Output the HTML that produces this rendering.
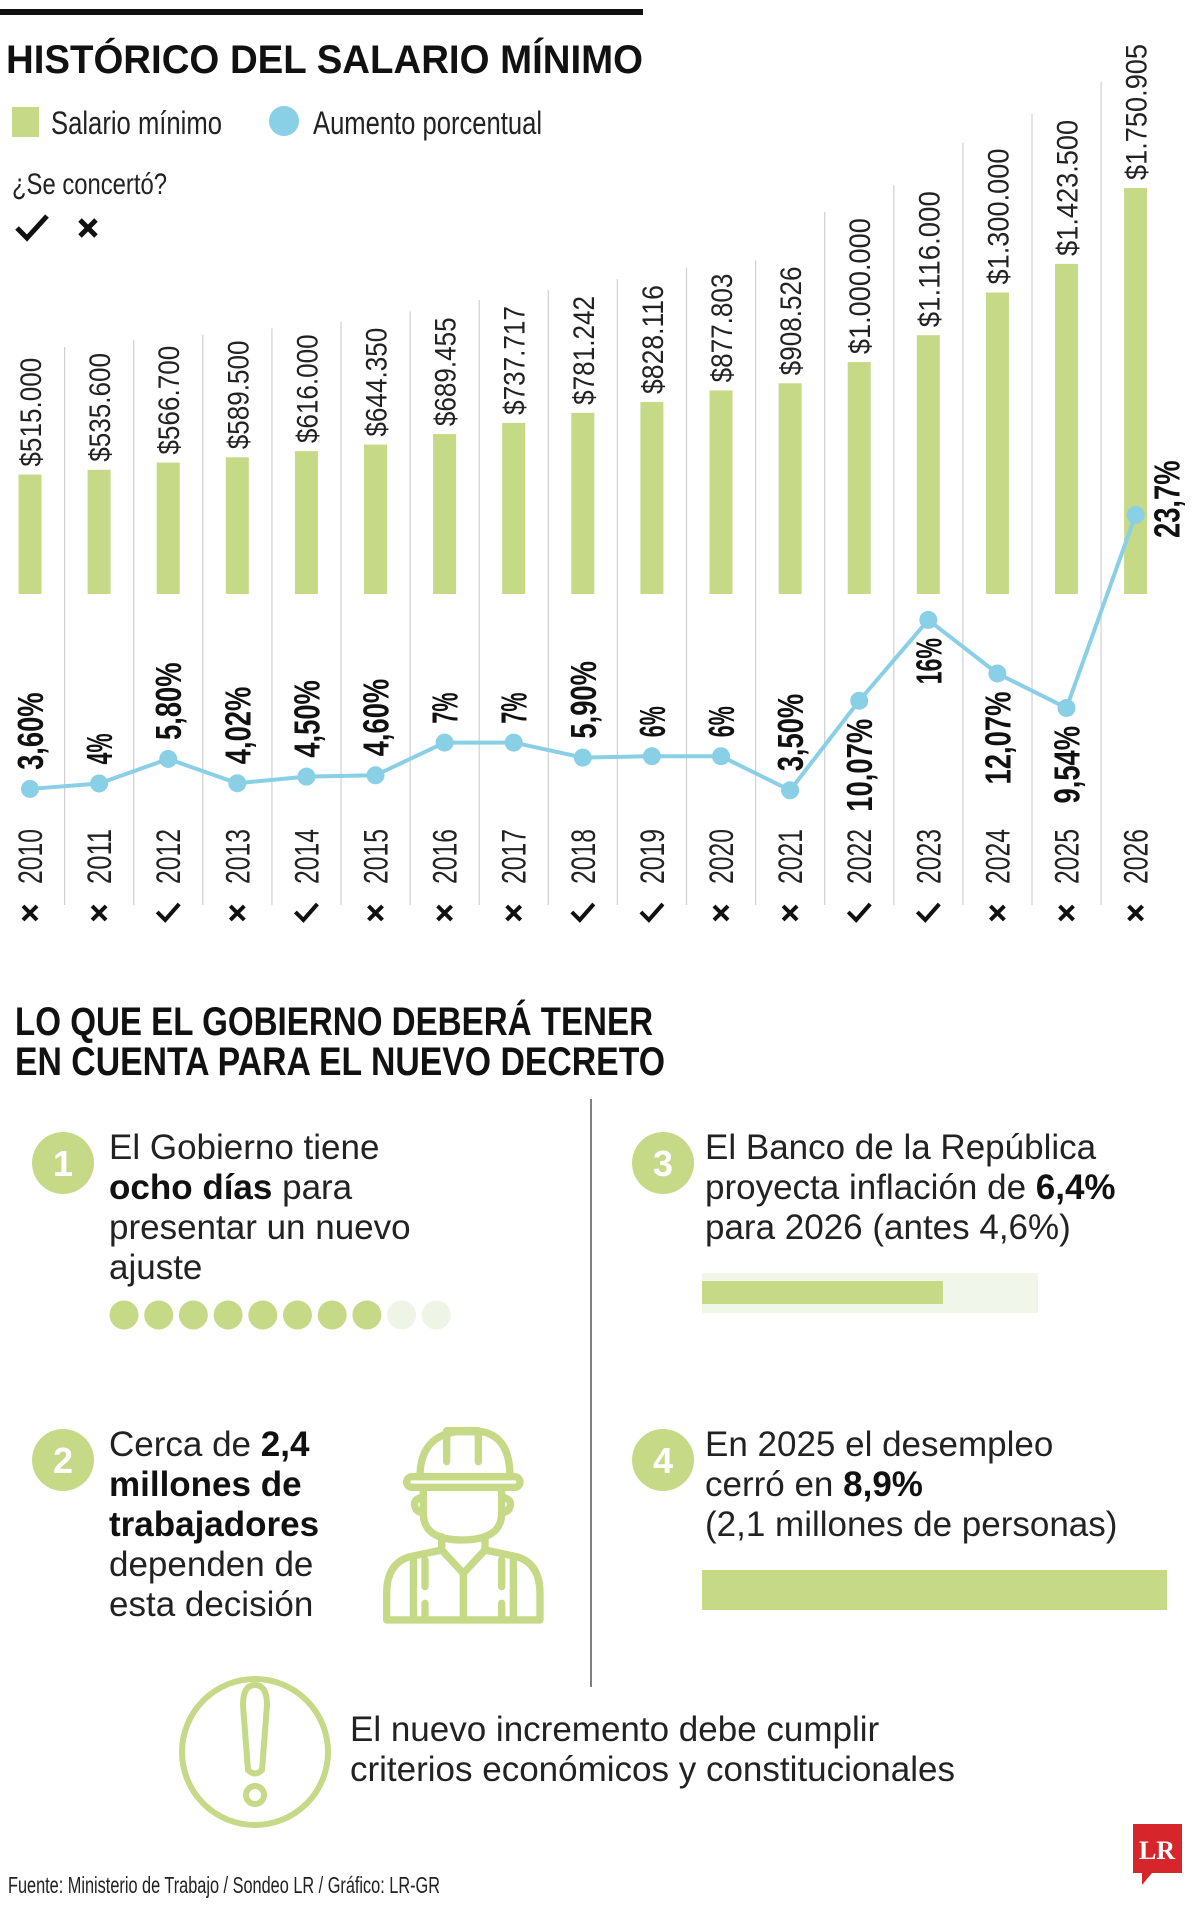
<!DOCTYPE html>
<html><head><meta charset="utf-8">
<style>
html,body{margin:0;padding:0;background:#fff;}
svg{display:block;}
text{font-family:"Liberation Sans Narrow","Liberation Sans",sans-serif;}
</style></head>
<body>
<svg id="chart" width="1200" height="1909" viewBox="0 0 1200 1909" xmlns="http://www.w3.org/2000/svg">
  <rect x="0" y="9" width="643" height="6" fill="#111"/>
  <text x="6" y="73" font-size="40" font-weight="bold" fill="#111" textLength="637" lengthAdjust="spacingAndGlyphs">HISTÓRICO DEL SALARIO MÍNIMO</text>
  <g>
    <rect x="12" y="107" width="27" height="30" fill="#c5d987"/>
    <text x="51" y="134" font-size="32" fill="#222" textLength="171" lengthAdjust="spacingAndGlyphs">Salario mínimo</text>
    <circle cx="284" cy="121" r="15" fill="#89cfe6"/>
    <text x="313" y="134" font-size="32" fill="#222" textLength="229" lengthAdjust="spacingAndGlyphs">Aumento porcentual</text>
    <text x="12" y="194" font-size="30" fill="#222" textLength="155" lengthAdjust="spacingAndGlyphs">¿Se concertó?</text>
    <path d="M17 228 L27 238 L47 216" stroke="#111" stroke-width="5" fill="none"/>
    <path d="M80 220 L96 236 M96 220 L80 236" stroke="#111" stroke-width="5" fill="none"/>
  </g>
  <g id="plot"></g>

  <g transform="translate(0,5)">
  <text x="15" y="1030" font-size="40" font-weight="bold" fill="#111" textLength="638" lengthAdjust="spacingAndGlyphs">LO QUE EL GOBIERNO DEBERÁ TENER</text>
  <text x="15" y="1070" font-size="40" font-weight="bold" fill="#111" textLength="650" lengthAdjust="spacingAndGlyphs">EN CUENTA PARA EL NUEVO DECRETO</text>
  <line x1="591" y1="1094" x2="591" y2="1682" stroke="#555" stroke-width="1.5"/>

  <g>
    <circle cx="63" cy="1158" r="31" fill="#c5d987"/>
    <text x="63" y="1171" font-size="36" font-weight="bold" fill="#fff" text-anchor="middle">1</text>
    <text x="109" y="1154" font-size="35" fill="#222">El Gobierno tiene</text>
    <text x="109" y="1194" font-size="35" fill="#222"><tspan font-weight="bold" fill="#111">ocho días</tspan> para</text>
    <text x="109" y="1234" font-size="35" fill="#222">presentar un nuevo</text>
    <text x="109" y="1274" font-size="35" fill="#222">ajuste</text>
    <g id="dots"></g>
  </g>

  <g>
    <circle cx="663" cy="1158" r="31" fill="#c5d987"/>
    <text x="663" y="1171" font-size="36" font-weight="bold" fill="#fff" text-anchor="middle">3</text>
    <text x="705" y="1154" font-size="35" fill="#222">El Banco de la República</text>
    <text x="705" y="1194" font-size="35" fill="#222">proyecta inflación de <tspan font-weight="bold" fill="#111">6,4%</tspan></text>
    <text x="705" y="1234" font-size="35" fill="#222">para 2026 (antes 4,6%)</text>
    <rect x="702" y="1268" width="336" height="40" fill="#f1f6ea"/>
    <rect x="702" y="1276" width="241" height="23" fill="#c5d987"/>
  </g>

  <g>
    <circle cx="63" cy="1455" r="31" fill="#c5d987"/>
    <text x="63" y="1468" font-size="36" font-weight="bold" fill="#fff" text-anchor="middle">2</text>
    <text x="109" y="1451" font-size="35" fill="#222">Cerca de <tspan font-weight="bold" fill="#111">2,4</tspan></text>
    <text x="109" y="1491" font-size="35" font-weight="bold" fill="#111">millones de</text>
    <text x="109" y="1531" font-size="35" font-weight="bold" fill="#111">trabajadores</text>
    <text x="109" y="1571" font-size="35" fill="#222">dependen de</text>
    <text x="109" y="1611" font-size="35" fill="#222">esta decisión</text>
    <g transform="translate(370,1395) scale(0.3333)" fill="none" stroke="#c5d987" stroke-width="22" stroke-linejoin="round" stroke-linecap="round">
      <path d="M150 230 Q150 110 260 95 L335 95 Q420 110 420 230"/>
      <path d="M230 185 L230 92 L325 92 L325 185"/>
      <rect x="110" y="230" width="340" height="32" rx="16"/>
      <path d="M160 262 L160 340 Q160 420 275 420 Q395 420 395 340 L395 262"/>
      <path d="M160 290 Q120 300 140 330 Q150 340 160 335"/>
      <path d="M395 290 Q435 300 415 330 Q405 340 395 335"/>
      <path d="M215 410 L215 450 L280 520 L345 450 L345 410"/>
      <path d="M215 450 L120 470 Q50 490 50 580 L50 660 L510 660 L510 580 Q510 490 440 470 L345 450"/>
      <path d="M280 520 L280 655"/>
      <path d="M130 478 L130 655 M165 480 L165 560 M165 610 L165 655 M395 480 L395 560 M395 610 L395 655 M430 478 L430 655"/>
    </g>
  </g>

  <g>
    <circle cx="663" cy="1455" r="31" fill="#c5d987"/>
    <text x="663" y="1468" font-size="36" font-weight="bold" fill="#fff" text-anchor="middle">4</text>
    <text x="705" y="1451" font-size="35" fill="#222">En 2025 el desempleo</text>
    <text x="705" y="1491" font-size="35" fill="#222">cerró en <tspan font-weight="bold" fill="#111">8,9%</tspan></text>
    <text x="705" y="1531" font-size="35" fill="#222">(2,1 millones de personas)</text>
    <rect x="702" y="1565" width="465" height="40" fill="#c5d987"/>
  </g>

  <g>
    <circle cx="255" cy="1747" r="73" fill="none" stroke="#c5d987" stroke-width="6"/>
    <path d="M243 1700 Q243 1680 255 1680 Q267 1680 267 1700 L262 1765 Q255 1772 248 1765 Z" fill="none" stroke="#c5d987" stroke-width="6" stroke-linejoin="round"/>
    <circle cx="255" cy="1790" r="9" fill="none" stroke="#c5d987" stroke-width="6"/>
    <text x="350" y="1736" font-size="35" fill="#222">El nuevo incremento debe cumplir</text>
    <text x="350" y="1776" font-size="35" fill="#222">criterios económicos y constitucionales</text>
  </g>
  </g>

  <text x="8" y="1893" font-size="23" fill="#222" textLength="432" lengthAdjust="spacingAndGlyphs">Fuente: Ministerio de Trabajo / Sondeo LR / Gráfico: LR-GR</text>
  <g>
    <path d="M1133 1824 L1182 1824 L1182 1873 L1152 1873 L1142 1885 L1142 1873 L1133 1873 Z" fill="#d7262b"/>
    <text x="1157" y="1859" font-size="26" font-weight="bold" fill="#fff" text-anchor="middle" style="font-family:'Liberation Serif',serif">LR</text>
  </g>
</svg>
<script>
const years = ["2010","2011","2012","2013","2014","2015","2016","2017","2018","2019","2020","2021","2022","2023","2024","2025","2026"];
const salaries = [515000,535600,566700,589500,616000,644350,689455,737717,781242,828116,877803,908526,1000000,1116000,1300000,1423500,1750905];
const salaryLabels = ["$515.000","$535.600","$566.700","$589.500","$616.000","$644.350","$689.455","$737.717","$781.242","$828.116","$877.803","$908.526","$1.000.000","$1.116.000","$1.300.000","$1.423.500","$1.750.905"];
const increases = [3.6,4,5.8,4.02,4.5,4.6,7,7,5.9,6,6,3.5,10.07,16,12.07,9.54,23.7];
const increaseLabels = ["3,60%","4%","5,80%","4,02%","4,50%","4,60%","7%","7%","5,90%","6%","6%","3,50%","10,07%","16%","12,07%","9,54%","23,7%"];
const agreed = [false,false,true,false,true,false,false,false,true,true,false,false,true,true,false,false,false];
const daysTotal = 10;
const daysUsed = 8;

const NS = "http://www.w3.org/2000/svg";
const plot = document.getElementById("plot");
function xPos(i){ return 30 + i * 69.1; }
function yBar(v){ return 594 - v * 0.0002319; }
function yPct(p){ return 838 - p * 13.63; }
function mk(tag, attrs, parent){
  const e = document.createElementNS(NS, tag);
  for (const k in attrs) e.setAttribute(k, attrs[k]);
  (parent || plot).appendChild(e);
  return e;
}
for (let i = 1; i < years.length; i++) {
  const lblLen = salaryLabels[i].length * 13.6;
  const top = Math.max(82, yBar(salaries[i]) - 8 - lblLen - 6);
  const g = mk("line", {x1: xPos(i) - 34.5, x2: xPos(i) - 34.5, y1: top, y2: 905, stroke: "#cfcfcf", "stroke-width": 1.2});
  
  
}
years.forEach((y, i) => {
  const cx = xPos(i), top = yBar(salaries[i]);
  const b = mk("rect", {x: cx - 11.5, y: top, width: 23, height: 594 - top, fill: "#c5d987"});
  
  
  const len = salaryLabels[i].length * 13.6;
  const t = mk("text", {x: 0, y: 0, "font-size": 30, fill: "#222", textLength: len, lengthAdjust: "spacingAndGlyphs",
    transform: `translate(${cx + 11},${top - 8}) rotate(-90)`});
  t.textContent = salaryLabels[i];
  
  
  const yl = mk("text", {x: 0, y: 0, "font-size": 34, fill: "#222", textLength: 55, lengthAdjust: "spacingAndGlyphs",
    transform: `translate(${cx + 12},884) rotate(-90)`});
  yl.textContent = y;
  
  
  let m;
  if (agreed[i]) {
    m = mk("path", {d: `M${cx-11} ${912} L${cx-3} ${920} L${cx+11} ${904}`, stroke: "#111", "stroke-width": 4, fill: "none"});
    
  } else {
    m = mk("path", {d: `M${cx-7} ${906} L${cx+7} ${920} M${cx+7} ${906} L${cx-7} ${920}`, stroke: "#111", "stroke-width": 4, fill: "none"});
    
  }
  
});
const pts = increases.map((p, i) => `${xPos(i)},${yPct(p)}`).join(" ");
const line = mk("polyline", {points: pts, fill: "none", stroke: "#89cfe6", "stroke-width": 4, "stroke-linejoin": "round"});


increases.forEach((p, i) => {
  const cx = xPos(i), cy = yPct(p);
  const c = mk("circle", {cx: cx, cy: cy, r: 9, fill: "#89cfe6"});
  
  
  const len = increaseLabels[i].length * 15.5;
  let tr, anchor = "start";
  if (i === years.length - 1) { tr = `translate(${cx + 44},${cy + 23}) rotate(-90)`; }
  else if (i >= 12 && i <= 15) { tr = `translate(${cx + 13},${cy + 18}) rotate(-90)`; anchor = "end"; }
  else { tr = `translate(${cx + 13},${cy - 19}) rotate(-90)`; }
  const t = mk("text", {x: 0, y: 0, "font-size": 36, "font-weight": "bold", fill: "#111", "text-anchor": anchor,
    textLength: len, lengthAdjust: "spacingAndGlyphs", transform: tr});
  t.textContent = increaseLabels[i];
  
  
});
const dots = document.getElementById("dots");
for (let k = 0; k < daysTotal; k++) {
  const d = mk("circle", {cx: 124 + k * 34.7, cy: 1310, r: 14.5, fill: k < daysUsed ? "#c5d987" : "#eef4e6"}, dots);
  
  
}
</script>
</body></html>
